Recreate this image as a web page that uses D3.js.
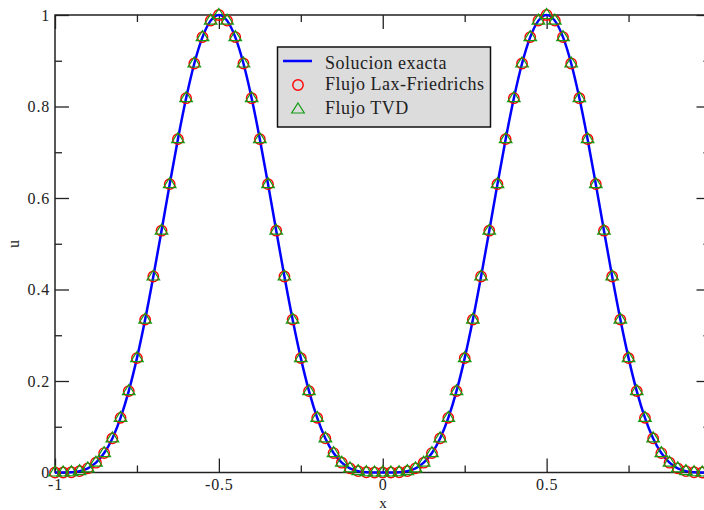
<!DOCTYPE html>
<html>
<head>
<meta charset="utf-8">
<script src="https://cdn.jsdelivr.net/npm/d3@7"></script>
<style>
  html, body { margin: 0; padding: 0; background: #fff; }
  svg { display: block; }
  text { font-family: "Liberation Serif", "Times New Roman", serif; fill: #222; }
</style>
</head>
<body>
<svg id="chart" width="704" height="510"></svg>
<script>
// Grid points
const xValues = [
  -1, -0.975, -0.95, -0.925, -0.9, -0.875, -0.85, -0.825, -0.8, -0.775,
  -0.75, -0.725, -0.7, -0.675, -0.65, -0.625, -0.6, -0.575, -0.55, -0.525,
  -0.5, -0.475, -0.45, -0.425, -0.4, -0.375, -0.35, -0.325, -0.3, -0.275,
  -0.25, -0.225, -0.2, -0.175, -0.15, -0.125, -0.1, -0.075, -0.05, -0.025,
  0, 0.025, 0.05, 0.075, 0.1, 0.125, 0.15, 0.175, 0.2, 0.225,
  0.25, 0.275, 0.3, 0.325, 0.35, 0.375, 0.4, 0.425, 0.45, 0.475,
  0.5, 0.525, 0.55, 0.575, 0.6, 0.625, 0.65, 0.675, 0.7, 0.725,
  0.75, 0.775, 0.8, 0.825, 0.85, 0.875, 0.9, 0.925, 0.95, 0.975, 1
];

// Exact solution
const exactU = [
  0, 0.0000, 0.0006, 0.0030, 0.0091, 0.0214, 0.0425, 0.0745, 0.1194, 0.1779,
  0.2500, 0.3343, 0.4284, 0.5285, 0.6303, 0.7286, 0.8181, 0.8940, 0.9517, 0.9877,
  1.0000, 0.9877, 0.9517, 0.8940, 0.8181, 0.7286, 0.6303, 0.5285, 0.4284, 0.3343,
  0.2500, 0.1779, 0.1194, 0.0745, 0.0425, 0.0214, 0.0091, 0.0030, 0.0006, 0.0000,
  0, 0.0000, 0.0006, 0.0030, 0.0091, 0.0214, 0.0425, 0.0745, 0.1194, 0.1779,
  0.2500, 0.3343, 0.4284, 0.5285, 0.6303, 0.7286, 0.8181, 0.8940, 0.9517, 0.9877,
  1.0000, 0.9877, 0.9517, 0.8940, 0.8181, 0.7286, 0.6303, 0.5285, 0.4284, 0.3343,
  0.2500, 0.1779, 0.1194, 0.0745, 0.0425, 0.0214, 0.0091, 0.0030, 0.0006, 0.0000, 0
];

// Lax-Friedrichs flux
const laxU = [
  0, 0.0000, 0.0006, 0.0030, 0.0091, 0.0214, 0.0425, 0.0745, 0.1194, 0.1779,
  0.2500, 0.3343, 0.4284, 0.5285, 0.6303, 0.7286, 0.8181, 0.8940, 0.9517, 0.9877,
  1.0000, 0.9877, 0.9517, 0.8940, 0.8181, 0.7286, 0.6303, 0.5285, 0.4284, 0.3343,
  0.2500, 0.1779, 0.1194, 0.0745, 0.0425, 0.0214, 0.0091, 0.0030, 0.0006, 0.0000,
  0, 0.0000, 0.0006, 0.0030, 0.0091, 0.0214, 0.0425, 0.0745, 0.1194, 0.1779,
  0.2500, 0.3343, 0.4284, 0.5285, 0.6303, 0.7286, 0.8181, 0.8940, 0.9517, 0.9877,
  1.0000, 0.9877, 0.9517, 0.8940, 0.8181, 0.7286, 0.6303, 0.5285, 0.4284, 0.3343,
  0.2500, 0.1779, 0.1194, 0.0745, 0.0425, 0.0214, 0.0091, 0.0030, 0.0006, 0.0000, 0
];

// TVD flux
const tvdU = [
  0, 0.0000, 0.0006, 0.0030, 0.0091, 0.0214, 0.0425, 0.0745, 0.1194, 0.1779,
  0.2500, 0.3343, 0.4284, 0.5285, 0.6303, 0.7286, 0.8181, 0.8940, 0.9517, 0.9877,
  1.0000, 0.9877, 0.9517, 0.8940, 0.8181, 0.7286, 0.6303, 0.5285, 0.4284, 0.3343,
  0.2500, 0.1779, 0.1194, 0.0745, 0.0425, 0.0214, 0.0091, 0.0030, 0.0006, 0.0000,
  0, 0.0000, 0.0006, 0.0030, 0.0091, 0.0214, 0.0425, 0.0745, 0.1194, 0.1779,
  0.2500, 0.3343, 0.4284, 0.5285, 0.6303, 0.7286, 0.8181, 0.8940, 0.9517, 0.9877,
  1.0000, 0.9877, 0.9517, 0.8940, 0.8181, 0.7286, 0.6303, 0.5285, 0.4284, 0.3343,
  0.2500, 0.1779, 0.1194, 0.0745, 0.0425, 0.0214, 0.0091, 0.0030, 0.0006, 0.0000, 0
];

// labelled x ticks (the tick at x = 1 sits on the clipped right edge, unlabelled)
const xLabelTicks = [-1, -0.5, 0, 0.5];
const xMajorTicks = [-1, -0.5, 0, 0.5, 1];
const xMinorTicks = [-0.75, -0.25, 0.25, 0.75];
const yMajorTicks = [0, 0.2, 0.4, 0.6, 0.8, 1];
const yMinorTicks = [0.1, 0.3, 0.5, 0.7, 0.9];
const legendLabels = ["Solucion exacta", "Flujo Lax-Friedrichs", "Flujo TVD"];

const svg = d3.select("#chart");
const plotLeft = 55, plotRight = 710.5, plotTop = 15, plotBottom = 472.5;

const x = d3.scaleLinear().domain([-1, 1]).range([plotLeft, plotRight]);
const y = d3.scaleLinear().domain([0, 1]).range([plotBottom, plotTop]);

const axisColor = "#222";
const fmt = d => String(d);
const xFmt = d => (xLabelTicks.includes(d) ? String(d) : "");

function styleAxis(g) {
  g.select(".domain").remove();
  g.selectAll(".tick line").attr("stroke", axisColor).attr("stroke-width", 1.3);
  g.selectAll(".tick text")
    .style("font-family", '"Liberation Serif", serif')
    .style("font-size", "16px")
    .style("letter-spacing", "0.8px")
    .attr("fill", "#222");
}

// bottom axis
svg.append("g").attr("transform", `translate(0,${plotBottom})`)
  .call(d3.axisBottom(x).tickValues(xMajorTicks).tickSizeInner(-14).tickSizeOuter(0).tickPadding(6).tickFormat(xFmt))
  .call(styleAxis);
svg.append("g").attr("transform", `translate(0,${plotBottom})`)
  .call(d3.axisBottom(x).tickValues(xMinorTicks).tickSizeInner(-7).tickSizeOuter(0).tickFormat(""))
  .call(styleAxis);
// top axis
svg.append("g").attr("transform", `translate(0,${plotTop})`)
  .call(d3.axisTop(x).tickValues(xMajorTicks).tickSizeInner(-14).tickSizeOuter(0).tickFormat(""))
  .call(styleAxis);
svg.append("g").attr("transform", `translate(0,${plotTop})`)
  .call(d3.axisTop(x).tickValues(xMinorTicks).tickSizeInner(-7).tickSizeOuter(0).tickFormat(""))
  .call(styleAxis);
// left axis
svg.append("g").attr("transform", `translate(${plotLeft},0)`)
  .call(d3.axisLeft(y).tickValues(yMajorTicks).tickSizeInner(-14).tickSizeOuter(0).tickPadding(5).tickFormat(fmt))
  .call(styleAxis);
svg.append("g").attr("transform", `translate(${plotLeft},0)`)
  .call(d3.axisLeft(y).tickValues(yMinorTicks).tickSizeInner(-7).tickSizeOuter(0).tickFormat(""))
  .call(styleAxis);
// right axis
svg.append("g").attr("transform", `translate(${plotRight},0)`)
  .call(d3.axisRight(y).tickValues(yMajorTicks).tickSizeInner(-14).tickSizeOuter(0).tickFormat(""))
  .call(styleAxis);
svg.append("g").attr("transform", `translate(${plotRight},0)`)
  .call(d3.axisRight(y).tickValues(yMinorTicks).tickSizeInner(-7).tickSizeOuter(0).tickFormat(""))
  .call(styleAxis);

// frame
svg.append("rect")
  .attr("x", plotLeft).attr("y", plotTop)
  .attr("width", plotRight - plotLeft).attr("height", plotBottom - plotTop)
  .attr("fill", "none").attr("stroke", axisColor).attr("stroke-width", 1.5);

// axis titles
svg.append("text").attr("x", 383).attr("y", 508)
  .attr("text-anchor", "middle").style("font-size", "15px").text("x");
svg.append("text")
  .attr("transform", "translate(19,244) rotate(-90)")
  .attr("text-anchor", "middle").style("font-size", "16px").text("u");

const blue = "#0000ff", red = "#ff0000", green = "#129c12";

// exact solution curve
const exactPts = xValues.map((v, i) => [v, exactU[i]]);
svg.append("path")
  .datum(exactPts)
  .attr("fill", "none").attr("stroke", blue).attr("stroke-width", 2.5)
  .attr("d", d3.line().x(d => x(d[0])).y(d => y(d[1])).curve(d3.curveMonotoneX));

// Lax-Friedrichs circles
svg.append("g").selectAll("circle")
  .data(xValues.map((v, i) => [v, laxU[i]]))
  .join("circle")
  .attr("cx", d => x(d[0])).attr("cy", d => y(d[1])).attr("r", 5.2)
  .attr("fill", "none").attr("stroke", red).attr("stroke-width", 1.4);

// TVD triangles
const tri = (cx, cy) => `M${cx},${cy - 6.5}L${cx + 6.3},${cy + 3.5}L${cx - 6.3},${cy + 3.5}Z`;
svg.append("g").selectAll("path")
  .data(xValues.map((v, i) => [v, tvdU[i]]))
  .join("path")
  .attr("d", d => tri(x(d[0]), y(d[1])))
  .attr("fill", "none").attr("stroke", green).attr("stroke-width", 1.2);

// legend
const lg = svg.append("g");
lg.append("rect").attr("x", 277.5).attr("y", 47).attr("width", 213).attr("height", 80)
  .attr("fill", "#dcdcdc").attr("stroke", "#111").attr("stroke-width", 1.5);
const rowY = [61, 85, 108.5];
const baseY = [68.8, 90, 113.5];
lg.append("line").attr("x1", 283).attr("x2", 312).attr("y1", rowY[0]).attr("y2", rowY[0])
  .attr("stroke", blue).attr("stroke-width", 2.5);
lg.append("circle").attr("cx", 298).attr("cy", rowY[1]).attr("r", 5.2)
  .attr("fill", "none").attr("stroke", red).attr("stroke-width", 1.4);
lg.append("path").attr("d", tri(298, rowY[2] + 1))
  .attr("fill", "none").attr("stroke", green).attr("stroke-width", 1.2);
lg.selectAll("text.lab").data(legendLabels).join("text")
  .attr("class", "lab")
  .attr("x", 325).attr("y", (d, i) => baseY[i])
  .style("font-size", "18px").style("letter-spacing", "0.5px")
  .text(d => d);
</script>
</body>
</html>
